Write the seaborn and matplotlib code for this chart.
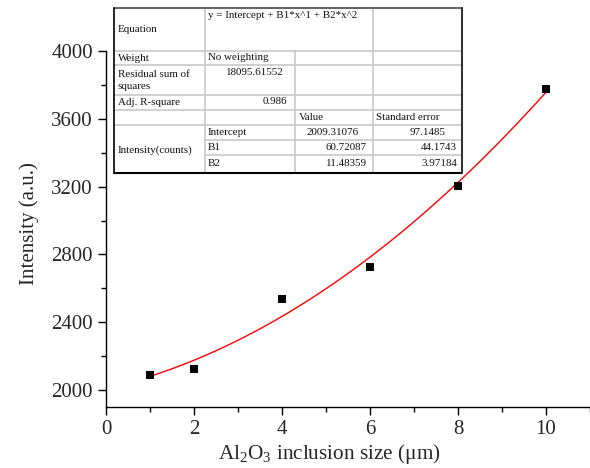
import numpy as np
import pandas as pd
import matplotlib
matplotlib.use('Agg')
import matplotlib.pyplot as plt
from matplotlib.ticker import MultipleLocator
import seaborn as sns

# Data
inclusion_size = [1, 2, 4, 6, 8, 10]
intensity = [2088, 2124, 2539, 2726, 3203, 3777]

# Fit report table (Origin style)
eq_text = "y = Intercept + B1*x^1 + B2*x^2"
row_labels = ["Equation", "Weight", "Residual sum of\nsquares", "Adj. R-square", "Intensity(counts)"]
weight_text = "No weighting"
rss_text = "18095.61552"
adj_r2_text = "0.986"
col_heads = ["Value", "Standard error"]
param_names = ["Intercept", "B1", "B2"]
param_values = ["2009.31076", "60.72087", "11.48359"]
param_errors = ["97.1485", "44.1743", "3.97184"]

sns.set_style('ticks')
plt.rcParams['font.family'] = ['Liberation Serif', 'DejaVu Serif']
plt.rcParams['mathtext.fontset'] = 'custom'
plt.rcParams['mathtext.rm'] = 'Liberation Serif'
plt.rcParams['mathtext.it'] = 'Liberation Serif:italic'
plt.rcParams['mathtext.default'] = 'regular'

df = pd.DataFrame({'size': inclusion_size, 'intensity': intensity})

fig = plt.figure(figsize=(5.9, 4.68), dpi=100)
ax = fig.add_axes([106 / 590, 61 / 468, 484 / 590, 356 / 468])

sns.regplot(data=df, x='size', y='intensity', order=2, ci=None, marker='s',
            scatter_kws=dict(s=40, color='black', alpha=1, linewidths=0, zorder=3),
            line_kws=dict(color='red', lw=1), ax=ax)

ax.set_xlim(0, 11)
ax.set_ylim(1900, 4000)
ax.xaxis.set_major_locator(MultipleLocator(2))
ax.xaxis.set_minor_locator(MultipleLocator(1))
ax.yaxis.set_major_locator(MultipleLocator(400))
ax.yaxis.set_minor_locator(MultipleLocator(200))
ax.tick_params(which='major', length=6, width=1, labelsize=15, color='black', direction='out')
ax.tick_params(which='minor', length=3.5, width=1, color='black', direction='out')
for s in ['top', 'right']:
    ax.spines[s].set_visible(False)
for s in ['left', 'bottom']:
    ax.spines[s].set_color('black')
    ax.spines[s].set_linewidth(1)
ax.set_xlabel("Al$_2$O$_3$ inclusion size (\u03bcm)", fontsize=15.3, labelpad=2)
ax.set_ylabel("Intensity (a.u.)", fontsize=15, labelpad=9)
ax.xaxis.label.set_x(0.461)
ax.yaxis.label.set_y(0.515)

# table overlay in pixel coordinates
tb = fig.add_axes([0, 0, 1, 1], zorder=5)
tb.set_xlim(0, 590)
tb.set_ylim(468, 0)
tb.axis('off')
tb.patch.set_alpha(0)

cx = [114, 205, 295, 373, 462]
ry = [8, 51, 65, 95, 110, 125, 140, 155, 173]
grey = '#c8c8c8'
tb.fill_between([cx[0], cx[-1]], ry[0], ry[-1], color='white', zorder=0)
for y in ry[1:-1]:
    x0 = cx[1] if y in (140, 155) else cx[0]
    tb.plot([x0, cx[-1]], [y, y], color=grey, lw=1.2)
tb.plot([cx[1], cx[1]], [ry[0], ry[-1]], color=grey, lw=1.2)
tb.plot([cx[2], cx[2]], [ry[1], ry[-1]], color=grey, lw=1.2)
tb.plot([cx[3], cx[3]], [ry[0], ry[-1]], color=grey, lw=1.2)
tb.plot([cx[0], cx[-1]], [ry[0], ry[0]], color='#666666', lw=1.5)
tb.plot([cx[0], cx[-1]], [ry[-1], ry[-1]], color='black', lw=1.5)
tb.plot([cx[0], cx[0]], [ry[0], ry[-1]], color='black', lw=1.2)
tb.plot([cx[-1], cx[-1]], [ry[0], ry[-1]], color='#333333', lw=1.5)

fs = 7.9
kw = dict(fontsize=fs, va='center', color='#111111')
tb.text(118, 30, row_labels[0], ha='left', **kw)
tb.text(208, 15, eq_text, ha='left', **kw)
tb.text(118, 58.5, row_labels[1], ha='left', **kw)
tb.text(208, 57.5, weight_text, ha='left', **kw)
tb.text(118, 80.5, row_labels[2], ha='left', linespacing=1.45, **kw)
tb.text(284, 72.5, rss_text, ha='right', **kw)
tb.text(118, 102.5, row_labels[3], ha='left', **kw)
tb.text(287, 102, adj_r2_text, ha='right', **kw)
tb.text(299, 117.5, col_heads[0], ha='left', **kw)
tb.text(376, 117.5, col_heads[1], ha='left', **kw)
tb.text(118, 150, row_labels[4], ha='left', **kw)
val_right = [359, 367, 367]
err_right = [445, 457, 457]
for i in range(3):
    yc = 132.5 + 15.5 * i
    tb.text(208, yc, param_names[i], ha='left', **kw)
    tb.text(val_right[i], yc, param_values[i], ha='right', **kw)
    tb.text(err_right[i], yc, param_errors[i], ha='right', **kw)

fig.savefig('out.png', dpi=100)
